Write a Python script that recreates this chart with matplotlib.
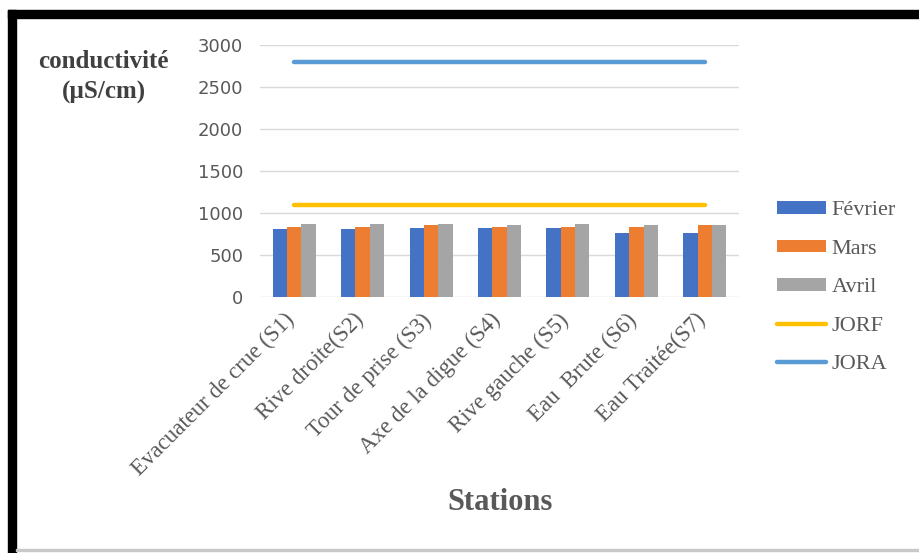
import matplotlib.pyplot as plt
import numpy as np
from matplotlib.patches import Rectangle
from matplotlib.transforms import ScaledTranslation

# stations and conductivity measurements (uS/cm)
stations = ['Evacuateur de crue (S1)', 'Rive droite(S2)', 'Tour de prise (S3)',
            'Axe de la digue (S4)', 'Rive gauche (S5)', 'Eau  Brute (S6)',
            'Eau Traitée(S7)']
fevrier = [809, 809, 825, 825, 825, 757, 757]
mars = [837, 837, 853, 837, 837, 837, 853]
avril = [865, 865, 865, 853, 865, 853, 853]
jorf = 1100
jora = 2800

W, H = 919, 553
fig = plt.figure(figsize=(W / 100, H / 100), dpi=100)

def px_box(x0, y0, x1, y1):
    # pixel box (top-left origin) -> figure fractions
    return [x0 / W, 1 - y1 / H, (x1 - x0) / W, (y1 - y0) / H]

def add_rect(x0, y0, x1, y1, color):
    l, b, w, h = px_box(x0, y0, x1, y1)
    fig.patches.append(Rectangle((l, b), w, h, transform=fig.transFigure,
                                 color=color, zorder=10))

ax = fig.add_axes(px_box(260, 45, 739, 297))

x = np.arange(len(stations))
bw = 0.21
b1 = ax.bar(x - bw, fevrier, bw, color='#4472C4', label='Février', zorder=3)
b2 = ax.bar(x, mars, bw, color='#ED7D31', label='Mars', zorder=3)
b3 = ax.bar(x + bw, avril, bw, color='#A5A5A5', label='Avril', zorder=3)
l1, = ax.plot(x, [jorf] * len(x), color='#FFC000', lw=3.2, solid_capstyle='round',
              label='JORF', zorder=4)
l2, = ax.plot(x, [jora] * len(x), color='#5B9BD5', lw=3.2, solid_capstyle='round',
              label='JORA', zorder=4)

ax.set_xlim(-0.5, len(stations) - 0.5)
ax.set_ylim(0, 3000)
ax.set_yticks(range(0, 3001, 500))
ax.yaxis.grid(True, color='#d9d9d9', lw=1, zorder=0)
for s in ax.spines.values():
    s.set_visible(False)
ax.tick_params(length=0)
ax.tick_params(axis='y', pad=12, labelsize=13, labelcolor='#595959')
for t in ax.get_yticklabels():
    t.set_family('DejaVu Sans')

ax.set_xticks(x)
ax.set_xticklabels(stations, rotation=45, ha='right', rotation_mode='anchor',
                   family='Liberation Serif', fontsize=16.5, color='#595959')
ax.tick_params(axis='x', pad=9)
shift = ScaledTranslation(-10 / 100, 0, fig.dpi_scale_trans)
for t in ax.get_xticklabels():
    t.set_transform(t.get_transform() + shift)

fig.text(103 / W, 1 - 62 / H, 'conductivité', ha='center', va='center',
         family='Liberation Serif', weight='bold', fontsize=18, color='#404040')
fig.text(104 / W, 1 - 92 / H, '(µS/cm)', ha='center', va='center',
         family='Liberation Serif', weight='bold', fontsize=18, color='#404040')
fig.text(500 / W, 1 - 503 / H, 'Stations', ha='center', va='center',
         family='Liberation Serif', weight='bold', fontsize=22, color='#595959')

fig.legend(handles=[b1, b2, b3, l1, l2], loc='upper left',
           bbox_to_anchor=(757 / W, 1 - 181 / H), frameon=False,
           prop={'family': 'Liberation Serif', 'size': 16}, labelcolor='#595959',
           handlelength=2.2, handleheight=0.5, handletextpad=0.25,
           labelspacing=0.87)

# frame around the chart
add_rect(8, 10, W, 18, 'black')
add_rect(8, 10, 16, H, 'black')
add_rect(16, 549, W, 551, '#c8c8c8')

fig.savefig('out.png', dpi=100)
